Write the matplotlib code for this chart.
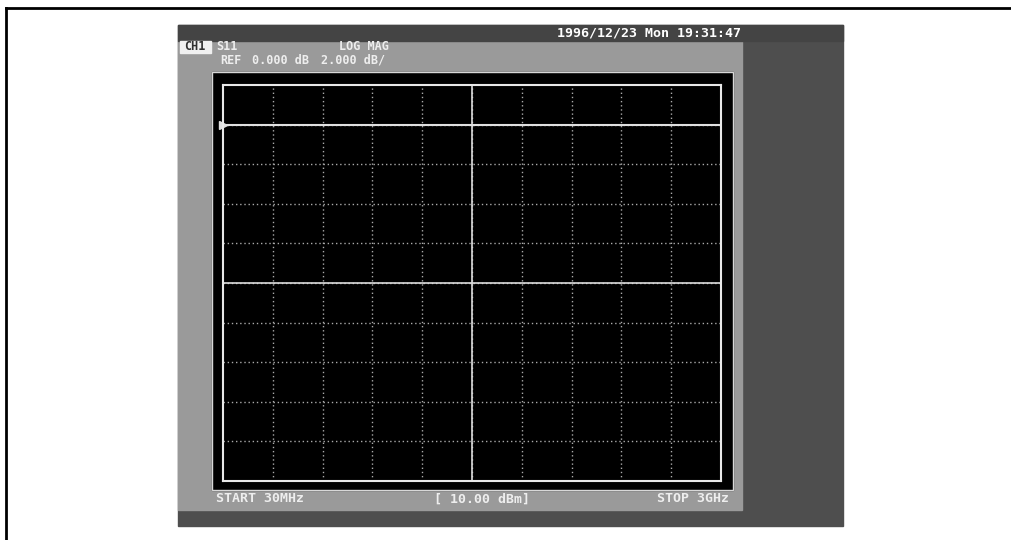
import matplotlib.pyplot as plt
from matplotlib.patches import Rectangle
import numpy as np

# instrument settings shown on screen
stamp = '1996/12/23 Mon 19:31:47'
channel = 'CH1'
param = 'S11'
fmt = 'LOG MAG'
ref_text = 'REF'
ref_value = '0.000 dB'
scale_text = '2.000 dB/'
start_text = 'START 30MHz'
power_text = '[ 10.00 dBm]'
stop_text = 'STOP 3GHz'

# sweep / scale
start_mhz = 30
stop_mhz = 3000
ref_db = 0.0
db_per_div = 2.0
n_div = 10
ref_div = 1  # ref line is one division below the top

W, H = 1011, 540
fig = plt.figure(figsize=(W / 100, H / 100), dpi=100)
fig.patch.set_facecolor('white')

bg = fig.add_axes([0, 0, 1, 1])
bg.set_xlim(0, W)
bg.set_ylim(H, 0)
bg.axis('off')

# page frame (scan edge)
bg.plot([6, W], [8, 8], color='black', lw=2)
bg.plot([6, 6], [8, H], color='black', lw=2)

# instrument screen
bg.add_patch(Rectangle((178, 25), 665, 501, color='#4e4e4e'))
bg.add_patch(Rectangle((178, 41), 564, 469, color='#9a9a9a'))
bg.add_patch(Rectangle((178, 25), 665, 16, color='#444444'))
bg.add_patch(Rectangle((212, 72), 521, 418, color='black'))
bg.add_patch(Rectangle((212, 72), 521, 418, fill=False, ec='#d8d8d8', lw=1))

mono = dict(family='DejaVu Sans Mono', weight='bold', fontsize=9.5)
small = dict(family='DejaVu Sans Mono', weight='bold', fontsize=8.5)
bg.text(741, 33, stamp, color='white', ha='right', va='center', **mono)

bg.add_patch(Rectangle((180, 41), 31, 12, color='#f0f0f0'))
bg.text(195, 47, channel, color='#303030', ha='center', va='center', **small)
bg.text(216, 47, param, color='#eeeeee', va='center', **small)
bg.text(339, 47, fmt, color='#eeeeee', va='center', **small)
bg.text(220, 60, ref_text, color='#eeeeee', va='center', **small)
bg.text(252, 60, ref_value, color='#eeeeee', va='center', **small)
bg.text(321, 60, scale_text, color='#eeeeee', va='center', **small)

bg.text(216, 499, start_text, color='#eeeeee', va='center', **mono)
bg.text(434, 499, power_text, color='#eeeeee', va='center', **mono)
bg.text(729, 499, stop_text, color='#eeeeee', ha='right', va='center', **mono)

# graticule
gl, gr, gt, gb = 223, 721, 85, 481
ax = fig.add_axes([gl / W, (H - gb) / H, (gr - gl) / W, (gb - gt) / H])
ax.set_facecolor('black')
top_db = ref_db + ref_div * db_per_div
bot_db = top_db - n_div * db_per_div
ax.set_xlim(start_mhz, stop_mhz)
ax.set_ylim(bot_db, top_db)
xt = np.linspace(start_mhz, stop_mhz, n_div + 1)
yt = np.linspace(bot_db, top_db, n_div + 1)
for x in xt[1:-1]:
    ax.axvline(x, color='#aaaaaa', lw=1, ls=(0, (1, 2)))
for y in yt[1:-1]:
    ax.axhline(y, color='#aaaaaa', lw=1, ls=(0, (1, 2)))
ax.axvline(xt[n_div // 2], color='#dddddd', lw=1.2)
ax.axhline(yt[n_div // 2], color='#dddddd', lw=1.2)
ax.axhline(ref_db, color='#e0e0e0', lw=1.5)
ax.plot([start_mhz], [ref_db], marker='>', color='#e0e0e0', ms=6,
        clip_on=False)
for s in ax.spines.values():
    s.set_color('#e8e8e8')
    s.set_linewidth(1.5)
ax.set_xticks([])
ax.set_yticks([])

fig.savefig('out.png', dpi=100)
